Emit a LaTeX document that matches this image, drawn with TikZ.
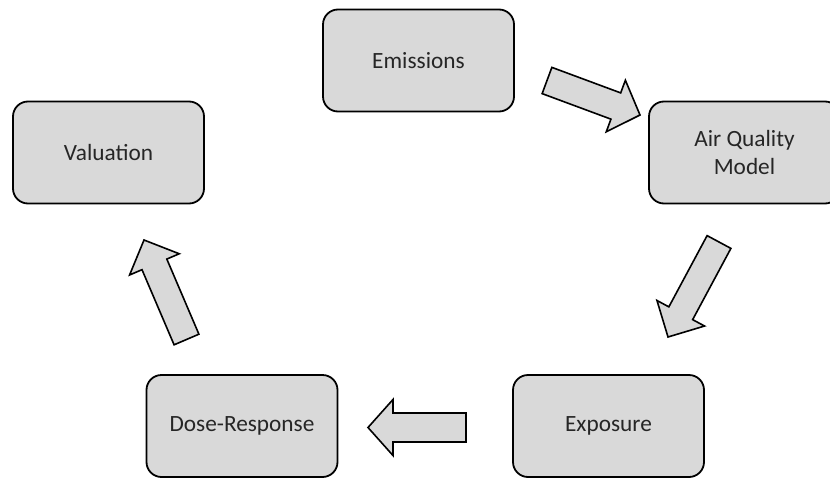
\documentclass[tikz,border=0pt]{standalone}
\usepackage{fontspec}
\setmainfont{Carlito}
\usetikzlibrary{calc}
\definecolor{boxfill}{HTML}{D9D9D9}
\definecolor{txt}{HTML}{262626}
\tikzset{
  stagebox/.style={draw=black, line width=1.8pt, fill=boxfill, rounded corners=15pt,
    minimum width=191pt, minimum height=102pt, inner sep=0pt, align=center,
    text=txt, font=\fontsize{23.3}{28.5}\selectfont},
  blockarrowstyle/.style={draw=black, line width=1.6pt, fill=boxfill, line join=miter}
}
% #1 tail, #2 tip, #3 fraction where head starts, #4 shaft half width, #5 head half width
\newcommand\blockarr[5]{%
  \coordinate (#1-b) at ($(#1)!#3!(#2)$);
  \draw[blockarrowstyle]
    ($(#1)!#4!90:(#2)$) -- ($(#1-b)!#4!90:(#2)$) -- ($(#1-b)!#5!90:(#2)$) -- (#2)
    -- ($(#1-b)!#5!-90:(#2)$) -- ($(#1-b)!#4!-90:(#2)$) -- ($(#1)!#4!-90:(#2)$) -- cycle;
}
\begin{document}
\begin{tikzpicture}[x=1pt,y=-1pt]
\useasboundingbox (0,0) rectangle (830,479);
\clip (0,0) rectangle (830,479);
\node[stagebox] (em)  at (418.5,60.5) {Emissions};
\node[stagebox] (aqm) at (744.5,152.5) {Air Quality\\Model};
\node[stagebox] (val) at (108.5,152.5) {Valuation};
\node[stagebox] (dr)  at (242,426) {Dose-Response};
\node[stagebox] (ex)  at (608.5,426) {Exposure};

\coordinate (a1t) at (547,80.5);  \coordinate (a1p) at (640,115);
\coordinate (a2t) at (719,242);   \coordinate (a2p) at (668,337);
\coordinate (a3t) at (466,427.5); \coordinate (a3p) at (368,427.5);
\coordinate (a4t) at (186.5,339.5); \coordinate (a4p) at (144,240);

\blockarr{a1t}{a1p}{0.74}{14pt}{27.5pt}
\blockarr{a2t}{a2p}{0.75}{13.5pt}{27pt}
\blockarr{a3t}{a3p}{0.745}{14.5pt}{28pt}
\blockarr{a4t}{a4p}{0.755}{13.5pt}{27pt}
\end{tikzpicture}
\end{document}
